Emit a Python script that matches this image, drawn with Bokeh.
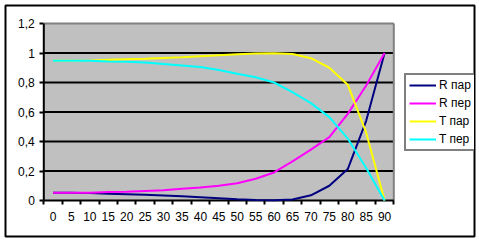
from bokeh.plotting import figure
from bokeh.models import (Range1d, FixedTicker, CustomJSTickFormatter, Legend, LegendItem,
                          ColumnDataSource)
from bokeh.embed import file_html
from bokeh.resources import INLINE

angles = [0, 5, 10, 15, 20, 25, 30, 35, 40, 45, 50, 55, 60, 65, 70, 75, 80, 85, 90]
r_par = [0.052, 0.052, 0.050, 0.045, 0.042, 0.039, 0.034, 0.029, 0.022, 0.015,
         0.008, 0.003, 0.001, 0.007, 0.035, 0.100, 0.213, 0.540, 1.0]
r_per = [0.052, 0.052, 0.053, 0.058, 0.060, 0.065, 0.070, 0.079, 0.088, 0.100,
         0.117, 0.147, 0.190, 0.265, 0.345, 0.430, 0.587, 0.780, 1.0]
t_par = [0.948, 0.948, 0.950, 0.955, 0.958, 0.961, 0.966, 0.971, 0.978, 0.985,
         0.992, 0.997, 0.999, 0.993, 0.965, 0.900, 0.785, 0.460, 0.0]
t_per = [0.948, 0.948, 0.947, 0.942, 0.940, 0.935, 0.925, 0.915, 0.905, 0.885,
         0.860, 0.835, 0.800, 0.735, 0.660, 0.565, 0.420, 0.220, 0.0]
series_names = ["R пар", "R пер", "T пар", "T пер"]
colors = ["#000080", "#FF00FF", "#FFFF00", "#00FFFF"]
y_ticks = [0, 0.2, 0.4, 0.6, 0.8, 1.0, 1.2]

idx = list(range(len(angles)))
src = ColumnDataSource(dict(x=idx, r_par=r_par, r_per=r_per, t_par=t_par, t_per=t_per))

FONT = "Liberation Sans"

# plot area in data units
X0, X1 = -0.5, len(angles) - 0.5
Y0, Y1 = y_ticks[0], y_ticks[-1]

# frame covers almost the whole canvas (its outline is the chart's outer border)
PX_X = 350.0 / (X1 - X0)      # pixels per category
PX_Y = 177.0 / (Y1 - Y0)      # pixels per unit of y
fl, fr, ft, fb = 5, 474, 5, 236       # frame edges in pixels
pl, pb = 43.3, 200.0                   # plot-area left / bottom in pixels
x_start = X0 - (pl - fl) / PX_X
x_end = X0 + (fr - pl) / PX_X
y_start = Y0 - (fb - pb) / PX_Y
y_end = Y0 + (pb - ft) / PX_Y

p = figure(width=479, height=241, output_backend="svg", toolbar_location=None,
           x_range=Range1d(x_start, x_end), y_range=Range1d(y_start, y_end),
           min_border_left=fl, min_border_right=479 - fr, min_border_top=ft,
           min_border_bottom=241 - fb,
           background_fill_color="white", border_fill_color="white")
p.outline_line_color = "black"
p.outline_line_width = 2
p.xgrid.visible = False
p.ygrid.visible = False

# plot area background
p.quad(left=[X0], right=[X1], bottom=[Y0], top=[Y1], fill_color="#C0C0C0", line_color=None)
# horizontal gridlines
grid_vals = [t for t in y_ticks if Y0 < t < Y1]
p.segment(x0=[X0] * len(grid_vals), x1=[X1] * len(grid_vals), y0=grid_vals, y1=grid_vals,
          line_color="black", line_width=2)
# plot-area border (top / right, grey)
p.segment(x0=[X0, X1], x1=[X1, X1], y0=[Y1, Y0], y1=[Y1, Y1], line_color="#808080", line_width=2)
# axis lines (left / bottom, black)
p.segment(x0=[X0, X0], x1=[X0, X1], y0=[Y0, Y0], y1=[Y1, Y0], line_color="black", line_width=2)

# y axis
p.yaxis.fixed_location = X0
p.yaxis.ticker = FixedTicker(ticks=y_ticks)
p.yaxis.formatter = CustomJSTickFormatter(code="""
    let s = tick.toFixed(1).replace('.', ',');
    if (s.endsWith(',0')) s = s.slice(0, -2);
    return s;
""")
p.yaxis.axis_line_color = None
p.yaxis.major_tick_line_color = "black"
p.yaxis.major_tick_line_width = 2
p.yaxis.major_tick_out = 4
p.yaxis.major_tick_in = 0
p.yaxis.minor_tick_line_color = None
p.yaxis.major_label_standoff = 5
p.yaxis.major_label_text_font = FONT
p.yaxis.major_label_text_font_size = "12px"
p.yaxis.major_label_text_color = "black"

# x axis (category axis, ticks between categories)
p.xaxis.fixed_location = Y0
p.xaxis.ticker = FixedTicker(ticks=idx, minor_ticks=[i - 0.5 for i in idx] + [idx[-1] + 0.5])
p.xaxis.major_label_overrides = {i: str(a) for i, a in zip(idx, angles)}
p.xaxis.axis_line_color = None
p.xaxis.major_tick_line_color = None
p.xaxis.major_tick_out = 0
p.xaxis.major_tick_in = 0
p.xaxis.minor_tick_line_color = "black"
p.xaxis.minor_tick_line_width = 2
p.xaxis.minor_tick_out = 4
p.xaxis.minor_tick_in = 0
p.xaxis.major_label_standoff = 7
p.xaxis.major_label_text_font = FONT
p.xaxis.major_label_text_font_size = "12px"
p.xaxis.major_label_text_color = "black"

renderers = []
for key, name, c in zip(["r_par", "r_per", "t_par", "t_per"], series_names, colors):
    r = p.line("x", key, source=src, line_color=c, line_width=2)
    renderers.append(r)

legend = Legend(items=[LegendItem(label=n, renderers=[r]) for n, r in zip(series_names, renderers)],
                location=(399, 85), orientation="vertical",
                padding=3, spacing=4, margin=0,
                glyph_width=27, glyph_height=14, label_height=14,
                label_standoff=3,
                label_text_font=FONT, label_text_font_size="12px", label_text_color="black",
                border_line_color="black", border_line_width=2,
                background_fill_color="white", background_fill_alpha=1.0)
p.add_layout(legend, "center")

open("out.html", "w").write(file_html(p, INLINE))
